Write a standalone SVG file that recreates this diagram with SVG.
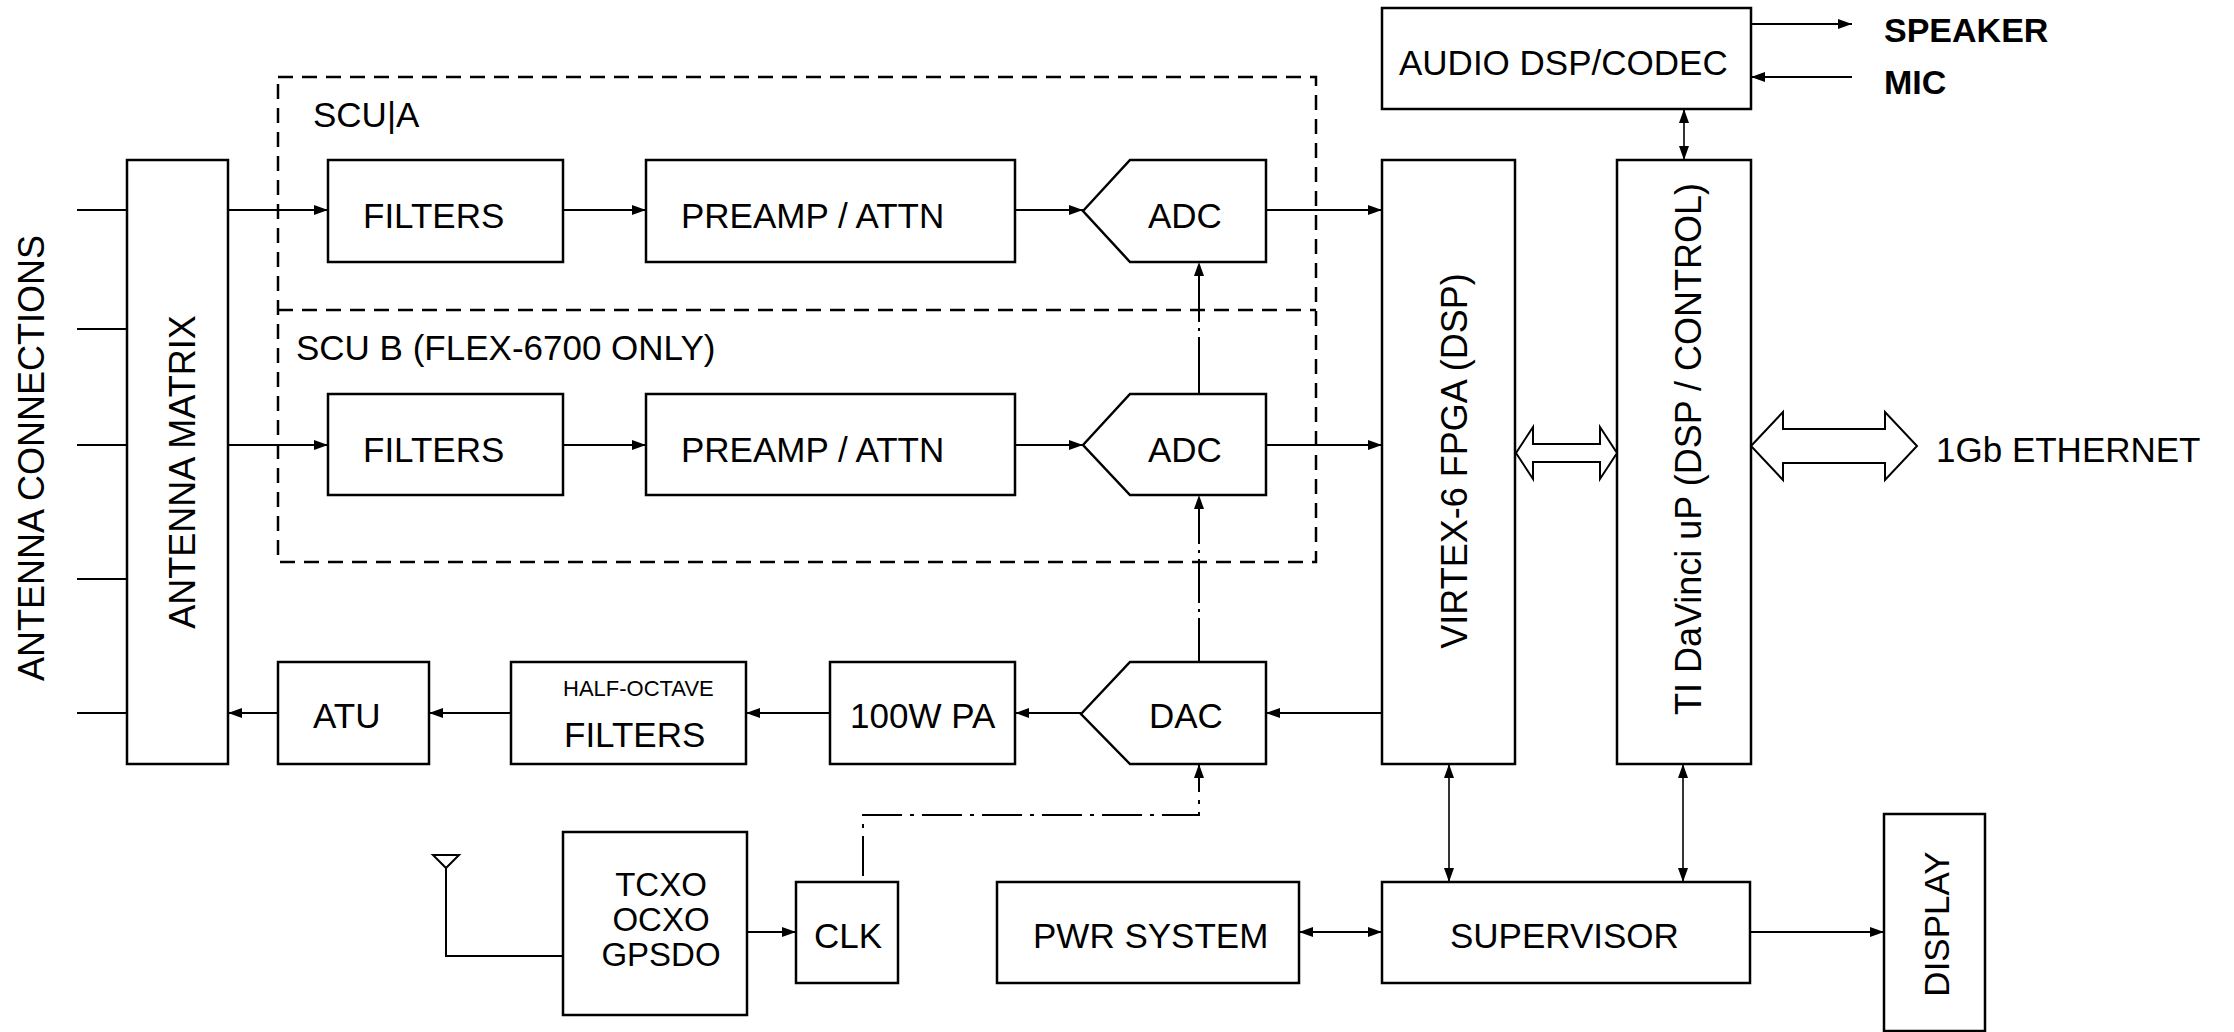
<svg xmlns="http://www.w3.org/2000/svg" width="2234" height="1032" viewBox="0 0 2234 1032">
<defs>
<style>
.box{fill:#fff;stroke:#000;stroke-width:2.5}
.dash{fill:none;stroke:#000;stroke-width:2.5;stroke-dasharray:15 9}
.ln{fill:none;stroke:#000;stroke-width:2}
.thin{fill:none;stroke:#000;stroke-width:1.6}
.hollow{fill:#fff;stroke:#000;stroke-width:2}
text{font-family:"Liberation Sans",Arial,sans-serif;font-size:35px;fill:#000}
.b{font-weight:bold;font-size:34px}
.sm{font-size:22px}
.r{font-size:36px}
.o{font-size:33px}
.c{text-anchor:middle}
</style>
<marker id="ah" viewBox="0 0 14 10" markerUnits="userSpaceOnUse" markerWidth="14" markerHeight="10" refX="14" refY="5" orient="auto-start-reverse"><path d="M0,0 L14,5 L0,10 z" fill="#000"/></marker>
</defs>
<rect x="0" y="0" width="2234" height="1032" fill="#fff"/>

<g id="scu-frame">
<rect class="dash" x="278" y="77" width="1038" height="485"/>
<line class="dash" x1="278" y1="310" x2="1316" y2="310"/>
<text x="313" y="127">SCU|A</text>
<text x="296" y="360">SCU B (FLEX-6700 ONLY)</text>
</g>

<g id="antenna-connections"><text class="c r" transform="translate(44,458) rotate(-90)">ANTENNA CONNECTIONS</text></g>

<g id="antenna-matrix"><rect class="box" x="127" y="160" width="101" height="604"/>
<text class="c r" transform="translate(195,472) rotate(-90)">ANTENNA MATRIX</text></g>

<g id="filters-a"><rect class="box" x="328" y="160" width="235" height="102"/><text x="363" y="228">FILTERS</text></g>
<g id="preamp-a"><rect class="box" x="646" y="160" width="369" height="102"/><text x="681" y="228">PREAMP / ATTN</text></g>
<g id="adc-a"><polygon class="box" points="1083,211 1130,160 1266,160 1266,262 1130,262"/><text x="1148" y="228">ADC</text></g>

<g id="filters-b"><rect class="box" x="328" y="394" width="235" height="101"/><text x="363" y="462">FILTERS</text></g>
<g id="preamp-b"><rect class="box" x="646" y="394" width="369" height="101"/><text x="681" y="462">PREAMP / ATTN</text></g>
<g id="adc-b"><polygon class="box" points="1083,445 1130,394 1266,394 1266,495 1130,495"/><text x="1148" y="462">ADC</text></g>

<g id="atu"><rect class="box" x="278" y="662" width="151" height="102"/><text x="313" y="728">ATU</text></g>
<g id="half-octave-filters"><rect class="box" x="511" y="662" width="235" height="102"/><text class="sm" x="563" y="696">HALF-OCTAVE</text><text x="564" y="747">FILTERS</text></g>
<g id="pa"><rect class="box" x="830" y="662" width="185" height="102"/><text x="850" y="728">100W PA</text></g>
<g id="dac"><polygon class="box" points="1081,714 1130,662 1266,662 1266,764 1130,764"/><text x="1149" y="728">DAC</text></g>

<g id="fpga"><rect class="box" x="1382" y="160" width="133" height="604"/>
<text class="c r" transform="translate(1467,461) rotate(-90)">VIRTEX-6 FPGA (DSP)</text></g>
<g id="davinci"><rect class="box" x="1617" y="160" width="134" height="604"/>
<text class="c r" transform="translate(1701,449) rotate(-90)">TI DaVinci uP (DSP / CONTROL)</text></g>
<g id="audio"><rect class="box" x="1382" y="8" width="369" height="101"/><text x="1399" y="75">AUDIO DSP/CODEC</text></g>
<g id="speaker"><text class="b" x="1884" y="42">SPEAKER</text></g>
<g id="mic"><text class="b" x="1884" y="94">MIC</text></g>
<g id="ethernet"><text x="1936" y="462">1Gb ETHERNET</text></g>

<g id="gps-antenna"><polygon class="ln" points="433,855 459,855 446,868"/></g>
<g id="oscillator"><rect class="box" x="563" y="832" width="184" height="183"/>
<text class="c o" x="661" y="896">TCXO</text><text class="c o" x="661" y="931">OCXO</text><text class="c o" x="661" y="966">GPSDO</text></g>
<g id="clk"><rect class="box" x="796" y="882" width="102" height="101"/><text class="c" x="848" y="948">CLK</text></g>
<g id="pwr"><rect class="box" x="997" y="882" width="302" height="101"/><text x="1033" y="948">PWR SYSTEM</text></g>
<g id="supervisor"><rect class="box" x="1382" y="882" width="368" height="101"/><text x="1450" y="948">SUPERVISOR</text></g>
<g id="display"><rect class="box" x="1884" y="814" width="101" height="217"/>
<text class="c" transform="translate(1949,924) rotate(-90)">DISPLAY</text></g>

<g id="connectors">
<path class="ln" d="M77,210 H127 M77,329 H127 M77,445 H127 M77,579 H127 M77,713 H127"/>
<path class="ln" d="M228,210 H328" marker-end="url(#ah)"/>
<path class="ln" d="M563,210 H646" marker-end="url(#ah)"/>
<path class="ln" d="M1015,210 H1083" marker-end="url(#ah)"/>
<path class="ln" d="M1266,210 H1382" marker-end="url(#ah)"/>
<path class="ln" d="M228,445 H328" marker-end="url(#ah)"/>
<path class="ln" d="M563,445 H646" marker-end="url(#ah)"/>
<path class="ln" d="M1015,445 H1083" marker-end="url(#ah)"/>
<path class="ln" d="M1266,445 H1382" marker-end="url(#ah)"/>
<path class="ln" d="M1382,713 H1266" marker-end="url(#ah)"/>
<path class="ln" d="M1081,713 H1015" marker-end="url(#ah)"/>
<path class="ln" d="M830,713 H746" marker-end="url(#ah)"/>
<path class="ln" d="M511,713 H429" marker-end="url(#ah)"/>
<path class="ln" d="M278,713 H228" marker-end="url(#ah)"/>
<path class="ln" d="M1199,662 V495" stroke-dasharray="44 6 3 6" marker-end="url(#ah)"/>
<path class="ln" d="M1199,394 V262" stroke-dasharray="57 6 3 6" marker-end="url(#ah)"/>
<path class="ln" d="M863,882 V815 H1199 V764" stroke-dasharray="40 8 4 8" stroke-dashoffset="54" marker-end="url(#ah)"/>
<path class="ln" d="M446,868 V956 H563"/>
<path class="ln" d="M747,932 H796" marker-end="url(#ah)"/>
<path class="ln" d="M1299,932 H1382" marker-start="url(#ah)" marker-end="url(#ah)"/>
<path class="ln" d="M1750,932 H1884" marker-end="url(#ah)"/>
<path class="thin" d="M1449,764 V882" marker-start="url(#ah)" marker-end="url(#ah)"/>
<path class="thin" d="M1683,764 V882" marker-start="url(#ah)" marker-end="url(#ah)"/>
<path class="thin" d="M1684,109 V160" marker-start="url(#ah)" marker-end="url(#ah)"/>
<path class="ln" d="M1751,24 H1852" marker-end="url(#ah)"/>
<path class="ln" d="M1852,77 H1751" marker-end="url(#ah)"/>
<polygon class="hollow" points="1516,453 1533,427 1533,444 1600,444 1600,427 1617,453 1600,479 1600,462 1533,462 1533,479"/>
<polygon class="hollow" points="1751,446 1783,412 1783,429 1885,429 1885,412 1917,446 1885,480 1885,463 1783,463 1783,480"/>
</g>
</svg>
